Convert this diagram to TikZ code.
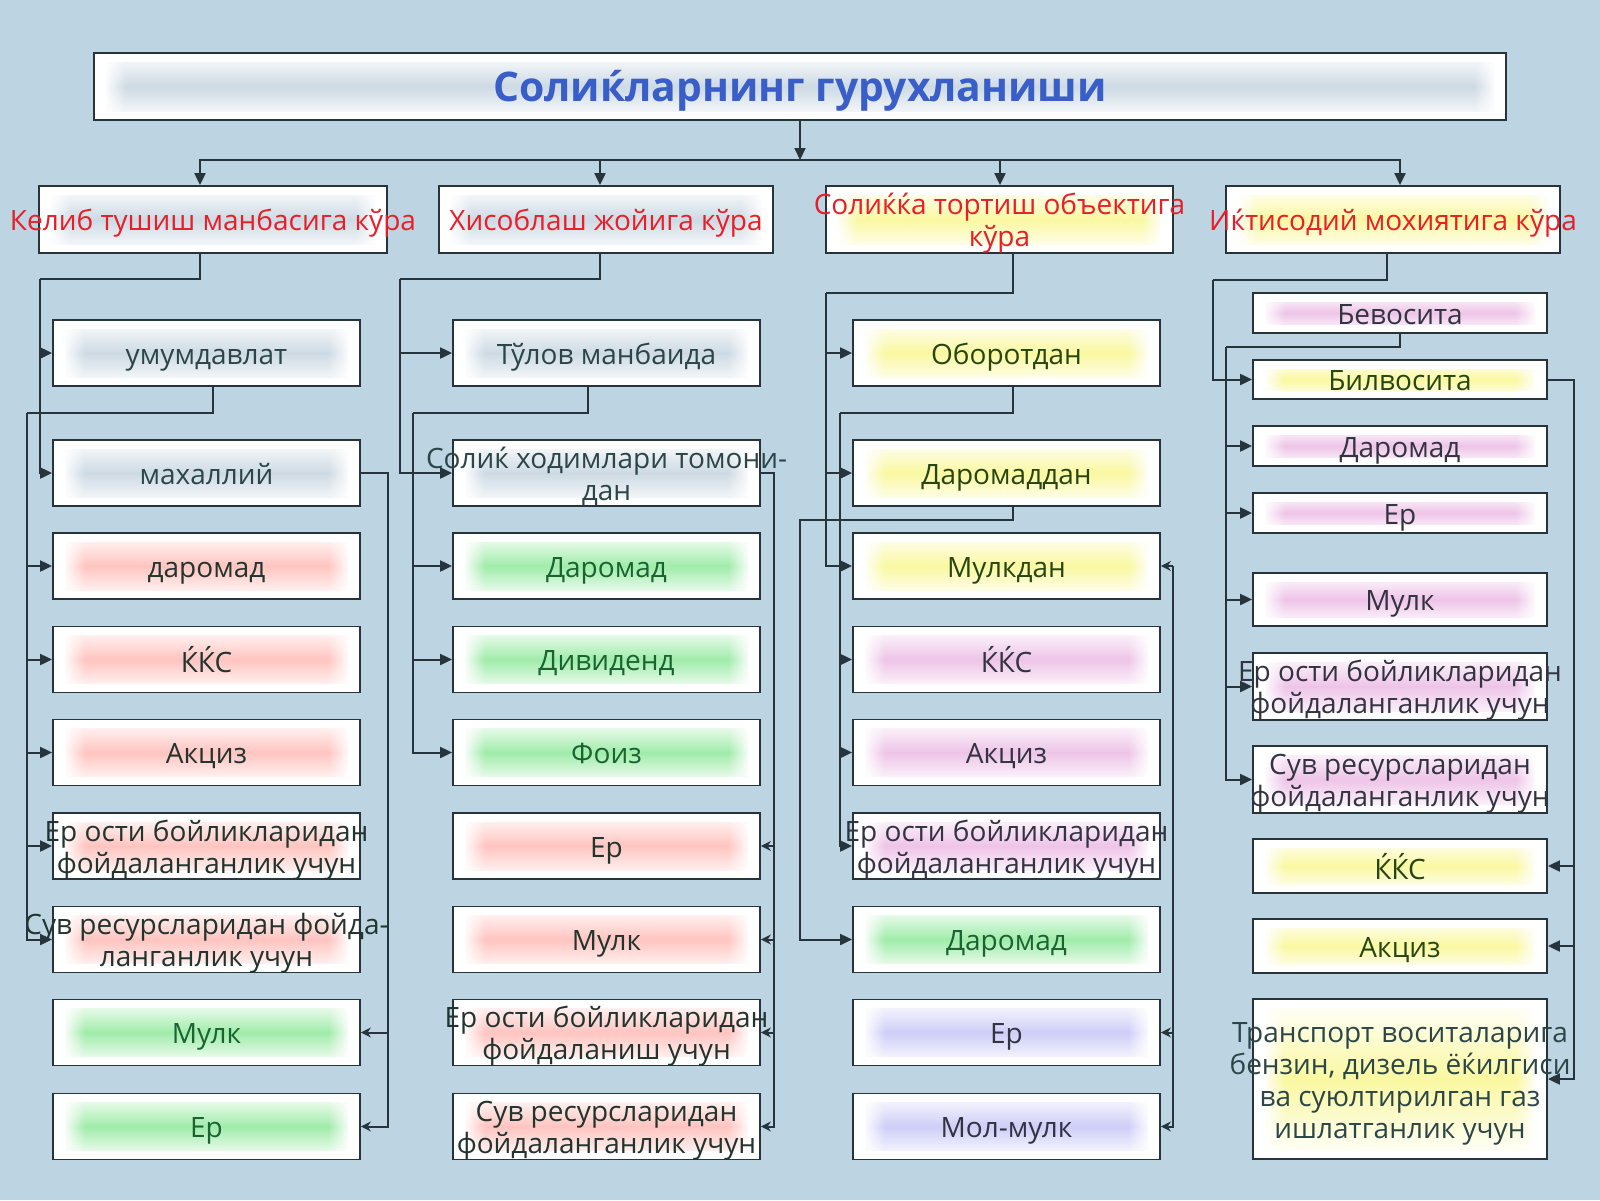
\documentclass[tikz,border=0pt]{standalone}
\usepackage{fontspec}
\setmainfont{Open Sans}
\usetikzlibrary{arrows.meta,fadings}

\definecolor{bgblue}{RGB}{189,213,226}
\definecolor{edge}{RGB}{40,52,60}
\definecolor{titleblue}{RGB}{58,94,200}
\definecolor{headred}{RGB}{232,30,40}
\definecolor{glowgrey}{RGB}{205,218,228}
\definecolor{glowred}{RGB}{255,196,192}
\definecolor{glowgreen}{RGB}{160,236,170}
\definecolor{glowyellow}{RGB}{250,248,160}
\definecolor{glowviolet}{RGB}{238,196,232}
\definecolor{glowblue}{RGB}{206,206,248}
\definecolor{txtgrey}{RGB}{44,70,72}
\definecolor{txtdark}{RGB}{34,52,46}
\definecolor{txtgreen}{RGB}{26,100,50}
\definecolor{txtolive}{RGB}{40,70,20}
\definecolor{txtslate}{RGB}{50,52,66}

\newcommand{\boxtext}[1]{\makebox[0pt]{\raisebox{-2.5pt}[\height][\depth]{\begin{tabular}{@{}c@{}}#1\end{tabular}}}}

\tikzset{
  taxbox/.style={draw=edge, line width=0.9pt, fill=white, inner sep=0pt,
    minimum width=153.5pt, minimum height=33pt, font=\fontsize{14pt}{16pt}\selectfont,
    path picture={
      \shade[top color=white, bottom color=white, middle color=#1]
        ([xshift=6pt,yshift=4.5pt]path picture bounding box.south west) rectangle
        ([xshift=-6pt,yshift=-4.5pt]path picture bounding box.north east);
      \fill[white, path fading=east]
        ([xshift=5pt,yshift=4pt]path picture bounding box.south west) rectangle
        ([xshift=16pt,yshift=-4pt]path picture bounding box.north west);
      \fill[white, path fading=west]
        ([xshift=-16pt,yshift=4pt]path picture bounding box.south east) rectangle
        ([xshift=-5pt,yshift=-4pt]path picture bounding box.north east);}},
  greybox/.style={taxbox=glowgrey, text=txtgrey},
  redbox/.style={taxbox=glowred, text=txtdark},
  greenbox/.style={taxbox=glowgreen, text=txtgreen},
  yellowbox/.style={taxbox=glowyellow, text=txtolive},
  violetbox/.style={taxbox=glowviolet, text=txtslate},
  lavbox/.style={taxbox=glowblue, text=txtslate},
  headbox/.style={minimum height=33.5pt, text=headred},
  line/.style={draw=edge, line width=1pt},
  arr/.style={line, -{Triangle[length=6pt,width=5.5pt]}},
  smallarr/.style={line, -{Stealth[length=5pt,width=5pt]}}
}

\begin{document}
\begin{tikzpicture}
\useasboundingbox (0pt,0pt) rectangle (800pt,-600pt);
\fill[bgblue] (0pt,0pt) rectangle (800pt,-600pt);

\node[greybox, minimum width=706pt, minimum height=33.5pt, text=titleblue, font=\fontsize{20.4pt}{24pt}\selectfont\bfseries] (title) at (400pt,-43.25pt) {\boxtext{Солиќларнинг гурухланиши}};

\node[greybox, headbox, minimum width=174pt] (h1) at (106.5pt,-109.75pt) {\boxtext{Келиб тушиш манбасига кўра}};
\node[greybox, headbox, minimum width=167pt] (h2) at (303pt,-109.75pt) {\boxtext{Хисоблаш жойига кўра}};
\node[yellowbox, headbox, minimum width=173.5pt] (h3) at (499.75pt,-109.75pt) {\boxtext{Солиќќа тортиш объектига\\кўра}};
\node[yellowbox, headbox, minimum width=167pt] (h4) at (696.5pt,-109.75pt) {\boxtext{Иќтисодий мохиятига кўра}};

\node[greybox] (umum) at (103.25pt,-176.5pt) {\boxtext{умумдавлат}};
\node[greybox] (mahal) at (103.25pt,-236.5pt) {\boxtext{махаллий}};
\node[redbox] (daromad1) at (103.25pt,-283pt) {\boxtext{даромад}};
\node[redbox] (kks1) at (103.25pt,-329.75pt) {\boxtext{ЌЌС}};
\node[redbox] (aksiz1) at (103.25pt,-376.25pt) {\boxtext{Акциз}};
\node[redbox] (erosti1) at (103.25pt,-423pt) {\boxtext{Ер ости бойликларидан\\фойдаланганлик учун}};
\node[redbox] (suv1) at (103.25pt,-469.75pt) {\boxtext{Сув ресурсларидан фойда-\\ланганлик учун}};
\node[greenbox] (mulk1) at (103.25pt,-516.25pt) {\boxtext{Мулк}};
\node[greenbox] (er1) at (103.25pt,-563.25pt) {\boxtext{Ер}};

\node[greybox] (tulov) at (303.25pt,-176.5pt) {\boxtext{Тўлов манбаида}};
\node[greybox] (xodim) at (303.25pt,-236.5pt) {\boxtext{Солиќ ходимлари томони-\\дан}};
\node[greenbox] (daromad2) at (303.25pt,-283pt) {\boxtext{Даромад}};
\node[greenbox] (divid) at (303.25pt,-329.75pt) {\boxtext{Дивиденд}};
\node[greenbox] (foiz) at (303.25pt,-376.25pt) {\boxtext{Фоиз}};
\node[redbox] (er2) at (303.25pt,-423pt) {\boxtext{Ер}};
\node[redbox] (mulk2) at (303.25pt,-469.75pt) {\boxtext{Мулк}};
\node[redbox] (erosti2) at (303.25pt,-516.25pt) {\boxtext{Ер ости бойликларидан\\фойдаланиш учун}};
\node[redbox] (suv2) at (303.25pt,-563.25pt) {\boxtext{Сув ресурсларидан\\фойдаланганлик учун}};

\node[yellowbox] (oborot) at (503.25pt,-176.5pt) {\boxtext{Оборотдан}};
\node[yellowbox] (daromaddan) at (503.25pt,-236.5pt) {\boxtext{Даромаддан}};
\node[yellowbox] (mulkdan) at (503.25pt,-283pt) {\boxtext{Мулкдан}};
\node[violetbox] (kks3) at (503.25pt,-329.75pt) {\boxtext{ЌЌС}};
\node[violetbox] (aksiz3) at (503.25pt,-376.25pt) {\boxtext{Акциз}};
\node[violetbox] (erosti3) at (503.25pt,-423pt) {\boxtext{Ер ости бойликларидан\\фойдаланганлик учун}};
\node[greenbox] (daromad3) at (503.25pt,-469.75pt) {\boxtext{Даромад}};
\node[lavbox] (er3) at (503.25pt,-516.25pt) {\boxtext{Ер}};
\node[lavbox] (molmulk) at (503.25pt,-563.25pt) {\boxtext{Мол-мулк}};

\node[violetbox, minimum width=147pt, minimum height=20pt] (bevos) at (700pt,-156.5pt) {\boxtext{Бевосита}};
\node[yellowbox, minimum width=147pt, minimum height=19.5pt] (bilvos) at (700pt,-189.75pt) {\boxtext{Билвосита}};
\node[violetbox, minimum width=147pt, minimum height=20pt] (daromad4) at (700pt,-223pt) {\boxtext{Даромад}};
\node[violetbox, minimum width=147pt, minimum height=20pt] (er4) at (700pt,-256.5pt) {\boxtext{Ер}};
\node[violetbox, minimum width=147pt, minimum height=26.5pt] (mulk4) at (700pt,-299.75pt) {\boxtext{Мулк}};
\node[violetbox, minimum width=147pt, minimum height=33.5pt] (erosti4) at (700pt,-343.25pt) {\boxtext{Ер ости бойликларидан\\фойдаланганлик учун}};
\node[violetbox, minimum width=147pt, minimum height=33.5pt] (suv4) at (700pt,-389.75pt) {\boxtext{Сув ресурсларидан\\фойдаланганлик учун}};
\node[yellowbox, minimum width=147pt, minimum height=27pt] (kks4) at (700pt,-433pt) {\boxtext{ЌЌС}};
\node[yellowbox, minimum width=147pt, minimum height=27pt] (aksiz4) at (700pt,-473pt) {\boxtext{Акциз}};
\node[yellowbox, minimum width=147pt, minimum height=80pt, text=txtgrey] (transport) at (700pt,-539.5pt) {\boxtext{Транспорт воситаларига\\бензин, дизель ёќилгиси\\ва суюлтирилган газ\\ишлатганлик учун}};

\coordinate (hub) at (400pt,-80pt);
\draw[arr] (title.south) -- (hub);
\draw[arr] (hub) -| ([xshift=-6.5pt]h1.north);
\draw[arr] (hub) -| ([xshift=-3pt]h2.north);
\draw[arr] (hub) -| ([xshift=0.25pt]h3.north);
\draw[arr] (hub) -| ([xshift=3.5pt]h4.north);

\coordinate (c1a) at (20pt,-139.5pt);
\draw[line] ([xshift=-6.5pt]h1.south) |- (c1a);
\draw[arr] (c1a) |- (umum.west);
\draw[arr] (c1a) |- (mahal.west);
\coordinate (c1b) at (13.5pt,-206.5pt);
\draw[line] ([xshift=3pt]umum.south) |- (c1b);
\foreach \n in {daromad1,kks1,aksiz1,erosti1,suv1} \draw[arr] (c1b) |- (\n.west);
\draw[smallarr] (mahal.east) -- ++(13.5pt,0pt) |- (mulk1.east);
\draw[smallarr] (mahal.east) -- ++(13.5pt,0pt) |- (er1.east);

\coordinate (c2a) at (200pt,-139.5pt);
\draw[line] ([xshift=-3pt]h2.south) |- (c2a);
\draw[arr] (c2a) |- (tulov.west);
\draw[arr] (c2a) |- (xodim.west);
\coordinate (c2b) at (206.5pt,-206.5pt);
\draw[line] ([xshift=-9.5pt]tulov.south) |- (c2b);
\foreach \n in {daromad2,divid,foiz} \draw[arr] (c2b) |- (\n.west);
\foreach \n in {er2,mulk2,erosti2,suv2} \draw[smallarr] (xodim.east) -- ++(6.5pt,0pt) |- (\n.east);

\coordinate (c3a) at (413pt,-146.5pt);
\draw[line] ([xshift=6.75pt]h3.south) |- (c3a);
\foreach \n in {oborot,daromaddan,mulkdan} \draw[arr] (c3a) |- (\n.west);
\coordinate (c3b) at (420pt,-206.5pt);
\draw[line] ([xshift=3.25pt]oborot.south) |- (c3b);
\foreach \n in {kks3,aksiz3,erosti3} \draw[arr] (c3b) |- (\n.west);
\coordinate (c3c) at (400pt,-260pt);
\draw[arr] ([xshift=3.25pt]daromaddan.south) |- (c3c) |- (daromad3.west);
\coordinate (c3d) at (586.5pt,-283pt);
\draw[smallarr] (c3d) -- (mulkdan.east);
\draw[smallarr] (c3d) |- (er3.east);
\draw[smallarr] (c3d) |- (molmulk.east);

\coordinate (c4a) at (606.5pt,-140pt);
\draw[line] ([xshift=-3.25pt]h4.south) |- (c4a);
\draw[arr] (c4a) |- (bilvos.west);
\coordinate (c4b) at (613pt,-173.5pt);
\draw[line] (bevos.south) |- (c4b);
\foreach \n in {daromad4,er4,mulk4,erosti4,suv4} \draw[arr] (c4b) |- (\n.west);
\foreach \n in {kks4,aksiz4,transport} \draw[arr] (bilvos.east) -- ++(13pt,0pt) |- (\n.east);
\end{tikzpicture}
\end{document}
